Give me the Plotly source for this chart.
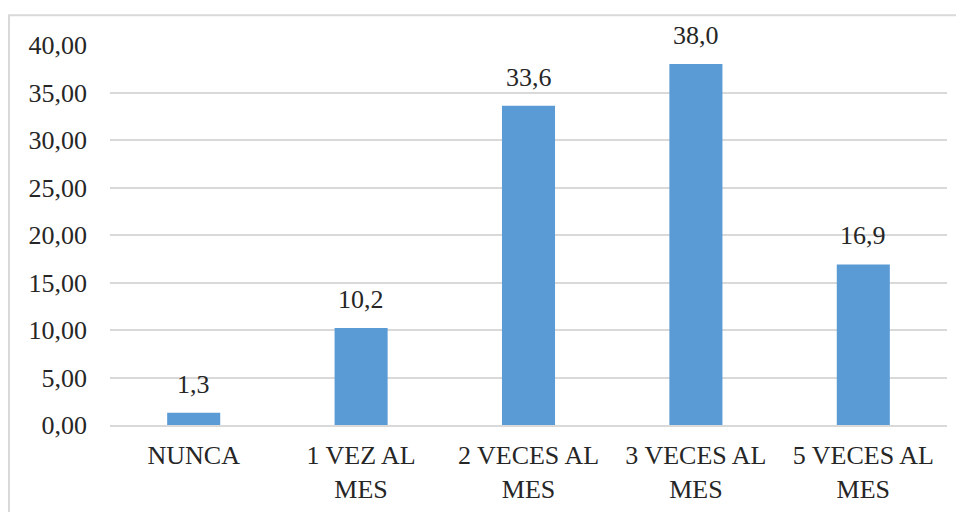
import plotly.graph_objects as go

categories = ["NUNCA", "1 VEZ AL<br>MES", "2 VECES AL<br>MES", "3 VECES AL<br>MES", "5 VECES AL<br>MES"]
values = [1.3, 10.2, 33.6, 38.0, 16.9]
y_ticks = [0, 5, 10, 15, 20, 25, 30, 35, 40]

FONT = "'Times New Roman', 'Liberation Serif', serif"
TXT = "#262626"
FS = 26

fig = go.Figure(go.Bar(x=categories, y=values, marker=dict(color="#5B9BD5", line=dict(width=0)),
                       hoverinfo="skip"))

for c, v in zip(categories, values):
    fig.add_annotation(x=c, y=v, text=f"{v:.1f}".replace(".", ","), showarrow=False,
                       yanchor="bottom", yshift=12, font=dict(family=FONT, size=FS, color=TXT))

fig.add_shape(type="rect", xref="paper", yref="paper", x0=-0.1207, x1=1.2, y0=-0.5, y1=1.078,
              line=dict(color="#D9D9D9", width=2), fillcolor="rgba(0,0,0,0)", layer="below")

fig.update_layout(
    width=964, height=512,
    margin=dict(l=102, r=25, t=37, b=95),
    paper_bgcolor="white", plot_bgcolor="white",
    separators=", ",
    bargap=0.683,
    showlegend=False,
    font=dict(family=FONT, size=FS, color=TXT),
    xaxis=dict(showgrid=False, showline=True, linecolor="#D9D9D9", linewidth=2,
               ticks="", tickfont=dict(family=FONT, size=FS, color=TXT), ticklabelstandoff=6),
    yaxis=dict(range=[0, 40], tickvals=y_ticks, tickformat=".2f", showgrid=True,
               gridcolor="#D9D9D9", gridwidth=2, zeroline=False, showline=False,
               ticks="", tickfont=dict(family=FONT, size=FS, color=TXT), ticklabelstandoff=22),
)

fig.write_html("out.html")
